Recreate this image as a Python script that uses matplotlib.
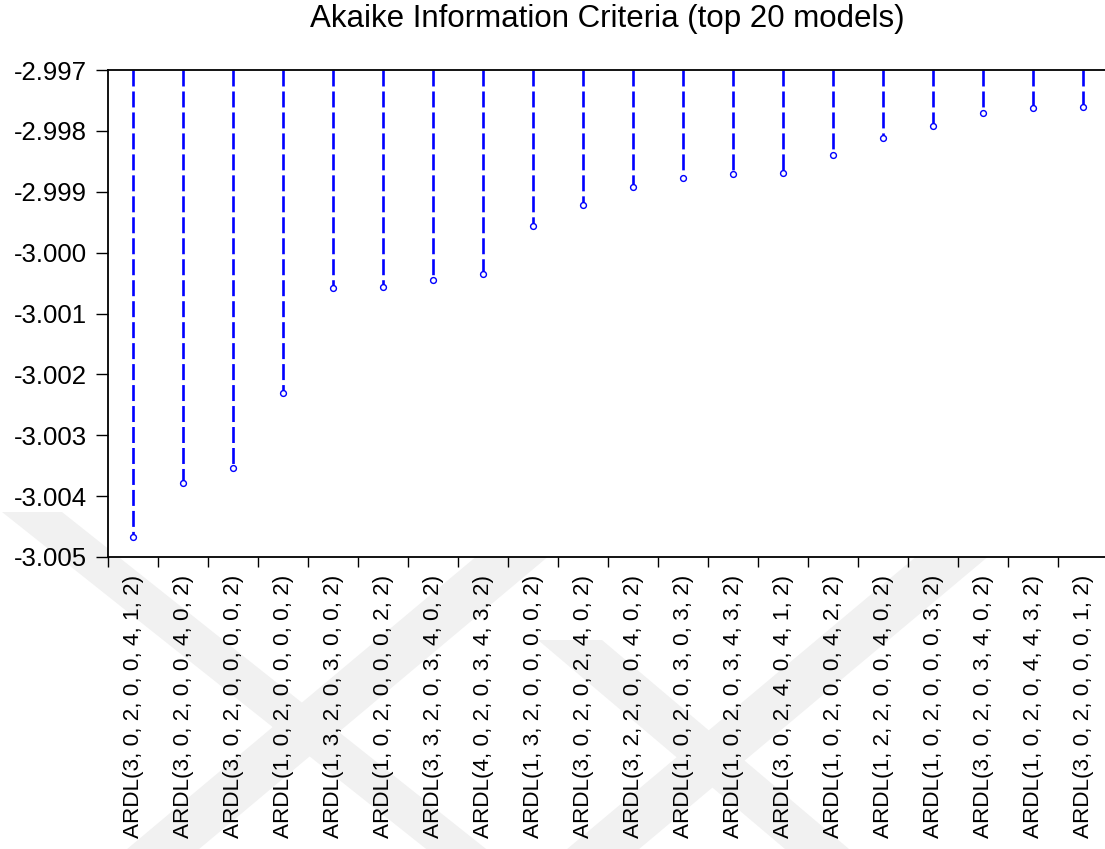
import matplotlib
matplotlib.use("Agg")
import matplotlib.pyplot as plt
from matplotlib.patches import Polygon
from matplotlib.ticker import FixedLocator, FixedFormatter

# ARDL specifications ranked by Akaike information criterion
models = [
    "ARDL(3, 0, 2, 0, 0, 4, 1, 2)",
    "ARDL(3, 0, 2, 0, 0, 4, 0, 2)",
    "ARDL(3, 0, 2, 0, 0, 0, 0, 2)",
    "ARDL(1, 0, 2, 0, 0, 0, 0, 2)",
    "ARDL(1, 3, 2, 0, 3, 0, 0, 2)",
    "ARDL(1, 0, 2, 0, 0, 0, 2, 2)",
    "ARDL(3, 3, 2, 0, 3, 4, 0, 2)",
    "ARDL(4, 0, 2, 0, 3, 4, 3, 2)",
    "ARDL(1, 3, 2, 0, 0, 0, 0, 2)",
    "ARDL(3, 0, 2, 0, 2, 4, 0, 2)",
    "ARDL(3, 2, 2, 0, 0, 4, 0, 2)",
    "ARDL(1, 0, 2, 0, 3, 0, 3, 2)",
    "ARDL(1, 0, 2, 0, 3, 4, 3, 2)",
    "ARDL(3, 0, 2, 4, 0, 4, 1, 2)",
    "ARDL(1, 0, 2, 0, 0, 4, 2, 2)",
    "ARDL(1, 2, 2, 0, 0, 4, 0, 2)",
    "ARDL(1, 0, 2, 0, 0, 0, 3, 2)",
    "ARDL(3, 0, 2, 0, 3, 4, 0, 2)",
    "ARDL(1, 0, 2, 0, 4, 4, 3, 2)",
    "ARDL(3, 0, 2, 0, 0, 0, 1, 2)",
]
aic = [
    -3.004667, -3.003790, -3.003533, -3.002311, -3.000576,
    -3.000560, -3.000455, -3.000346, -2.999558, -2.999218,
    -2.998927, -2.998779, -2.998703, -2.998687, -2.998391,
    -2.998122, -2.997920, -2.997711, -2.997629, -2.997613,
]
y_ticks = [-3.005, -3.004, -3.003, -3.002, -3.001, -3.000, -2.999, -2.998, -2.997]
y_tick_labels = ["-3.005", "-3.004", "-3.003", "-3.002", "-3.001",
                 "-3.000", "-2.999", "-2.998", "-2.997"]
title = "Akaike Information Criteria (top 20 models)"

plt.rcParams["font.family"] = ["Liberation Sans", "DejaVu Sans"]
plt.rcParams["lines.scale_dashes"] = False

W, H = 1105, 849
fig = plt.figure(figsize=(W / 100, H / 100), dpi=100)
fig.patch.set_facecolor("white")


def px(x, y):
    return (x / W, 1 - y / H)


# faint diagonal background bands
band_color = "#f1f1f1"
bands = [
    ((32, 512), (470, 860), 30),
    ((520, 550), (150, 860), 36),
    ((960, 550), (590, 860), 36),
    ((570, 640), (830, 860), 32),
]
for (x1, y1), (x2, y2), w in bands:
    pts = [px(x1 - w, y1), px(x1 + w, y1), px(x2 + w, y2), px(x2 - w, y2)]
    fig.patches.append(Polygon(pts, closed=True, transform=fig.transFigure,
                               facecolor=band_color, edgecolor="none", zorder=0))

ax = fig.add_axes([108 / W, 1 - 557 / H, 1000 / W, 487 / H])
ax.set_facecolor("white")
ax.set_zorder(1)

baseline = y_ticks[-1]
blue = "#0000ff"
for i, v in enumerate(aic):
    ax.plot([i, i], [baseline, v], color=blue, lw=1.9,
            dashes=(11.5, 3.6), dash_capstyle="butt", zorder=2)
ax.plot(range(len(aic)), aic, linestyle="none", marker="o", ms=4.2,
        mfc="white", mec=blue, mew=1.0, zorder=3)

ax.set_xlim(-0.5, len(models) - 0.5)
ax.set_ylim(y_ticks[0], y_ticks[-1])

ax.yaxis.set_major_locator(FixedLocator(y_ticks))
ax.yaxis.set_major_formatter(FixedFormatter(y_tick_labels))
ax.tick_params(axis="y", direction="out", length=9, width=1.0, pad=6,
               labelsize=18.5, colors="black")

ax.xaxis.set_major_locator(FixedLocator(list(range(len(models)))))
ax.xaxis.set_major_formatter(FixedFormatter(models))
ax.xaxis.set_minor_locator(FixedLocator([i - 0.5 for i in range(len(models) + 1)]))
ax.tick_params(axis="x", which="major", length=0, pad=13, labelsize=16.2,
               labelrotation=90)
ax.tick_params(axis="x", which="minor", direction="out", length=7, width=1.0)
for lab in ax.get_xticklabels():
    lab.set_verticalalignment("top")

for side in ("top", "left", "bottom"):
    ax.spines[side].set_linewidth(1.3)
    ax.spines[side].set_color("black")
ax.spines["right"].set_visible(False)

fig.text(px(607, 0)[0], 1 - 4 / H, title, ha="center", va="top", fontsize=22.5)

fig.savefig("out.png", dpi=100)
